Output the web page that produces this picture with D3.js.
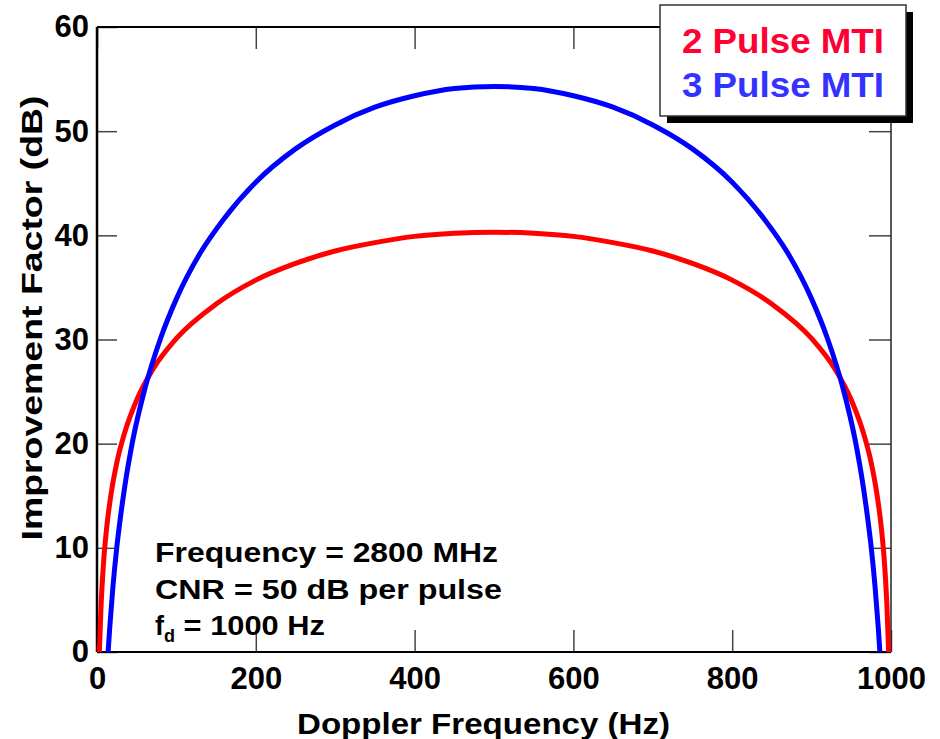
<!DOCTYPE html>
<html>
<head>
<meta charset="utf-8">
<script src="https://cdn.jsdelivr.net/npm/d3@7"></script>
<style>
  body { margin: 0; background: #fff; }
  svg text { font-family: "Liberation Sans", Arial, sans-serif; font-weight: bold; }
  .axis path { display: none; }
  .axis line { stroke: #444; stroke-width: 1.5; }
  .axis text { font-size: 31px; fill: #000; }
</style>
</head>
<body>
<div id="chart"></div>
<script>
// Doppler frequency (Hz) and improvement factor (dB).
var pulse2Freq = [3, 5, 8, 12, 18, 25, 35, 50, 70, 100, 150, 200, 250, 300, 350, 400, 450, 500,
  550, 600, 650, 700, 750, 800, 850, 900, 930, 950, 965, 975, 982, 988, 992, 995, 997];
var pulse2Gain = [0, 4.2, 8.3, 11.8, 15.3, 18.2, 21.1, 24.2, 27.1, 30.1, 33.4, 35.7, 37.3, 38.5, 39.3, 39.9, 40.2, 40.3,
  40.2, 39.9, 39.3, 38.5, 37.3, 35.7, 33.4, 30.1, 27.1, 24.2, 21.1, 18.2, 15.3, 11.8, 8.3, 4.2, 0];

var pulse3Freq = [14, 16, 20, 25, 30, 35, 45, 60, 80, 100, 130, 160, 200, 250, 300, 350, 400, 450, 500,
  550, 600, 650, 700, 750, 800, 840, 870, 900, 920, 940, 955, 965, 970, 975, 980, 984, 986];
var pulse3Gain = [0, 2.3, 6.2, 10.1, 13.2, 15.9, 20.3, 25.2, 30.1, 33.9, 38.3, 41.6, 45.1, 48.3, 50.6, 52.3, 53.4, 54.1, 54.3,
  54.1, 53.4, 52.3, 50.6, 48.3, 45.1, 41.6, 38.3, 33.9, 30.1, 25.2, 20.3, 15.9, 13.2, 10.1, 6.2, 2.3, 0];

var xTicks = [0, 200, 400, 600, 800, 1000];
var yTicks = [0, 10, 20, 30, 40, 50, 60];
var legendLabels = ["2 Pulse MTI", "3 Pulse MTI"];
var noteLines = ["Frequency = 2800 MHz", "CNR = 50 dB per pulse"];

var margin = { top: 27, right: 49, bottom: 87, left: 97 };
var width = 940 - margin.left - margin.right;
var height = 739 - margin.top - margin.bottom;

var xScale = d3.scaleLinear().domain([0, 1000]).range([0, width]);
var yScale = d3.scaleLinear().domain([0, 60]).range([height, 0]);

var svg = d3.select("#chart").append("svg")
  .attr("width", 940)
  .attr("height", 739)
  .append("g")
  .attr("transform", "translate(" + margin.left + "," + margin.top + ")");

// Axes with inward ticks.
svg.append("g")
  .attr("class", "x axis")
  .attr("transform", "translate(0," + height + ")")
  .call(d3.axisBottom(xScale).tickValues(xTicks).tickSize(-22).tickPadding(15).tickFormat(d3.format("d")));

svg.append("g")
  .attr("class", "y axis")
  .call(d3.axisLeft(yScale).tickValues(yTicks).tickSize(-20).tickPadding(8));

svg.append("g")
  .attr("class", "axis")
  .call(d3.axisTop(xScale).tickValues(xTicks).tickSize(-22).tickFormat(""));

svg.append("g")
  .attr("class", "axis")
  .attr("transform", "translate(" + width + ",0)")
  .call(d3.axisRight(yScale).tickValues(yTicks).tickSize(-22).tickFormat(""));

// Frame.
svg.append("line").attr("x1", 0).attr("x2", width).attr("y1", 0).attr("y2", 0)
  .attr("stroke", "#000").attr("stroke-width", 2);
svg.append("line").attr("x1", 0).attr("x2", width).attr("y1", height).attr("y2", height)
  .attr("stroke", "#000").attr("stroke-width", 2);
svg.append("line").attr("x1", 0).attr("x2", 0).attr("y1", 0).attr("y2", height)
  .attr("stroke", "#000").attr("stroke-width", 2.5);
svg.append("line").attr("x1", width).attr("x2", width).attr("y1", 0).attr("y2", height)
  .attr("stroke", "#222").attr("stroke-width", 1.5);

// Curves.
var line = d3.line()
  .x(function(d) { return xScale(d[0]); })
  .y(function(d) { return yScale(d[1]); })
  .curve(d3.curveMonotoneX);

var series = [
  { freq: pulse2Freq, gain: pulse2Gain, color: "#ff0000" },
  { freq: pulse3Freq, gain: pulse3Gain, color: "#0000ff" }
];

series.forEach(function(s) {
  svg.append("path")
    .datum(d3.zip(s.freq, s.gain))
    .attr("fill", "none")
    .attr("stroke", s.color)
    .attr("stroke-width", 5)
    .attr("d", line);
});

// Annotation.
var note = svg.append("g").attr("font-size", 27);
var noteWidths = [343, 347];
noteLines.forEach(function(t, i) {
  note.append("text")
    .attr("x", 58)
    .attr("y", 535 + i * 37)
    .attr("textLength", noteWidths[i])
    .attr("lengthAdjust", "spacingAndGlyphs")
    .text(t);
});
var fd = note.append("text").attr("x", 58).attr("y", 608);
fd.append("tspan").text("f");
fd.append("tspan").attr("font-size", 18).attr("dy", 7).text("d");
fd.append("tspan").attr("dy", -7).attr("textLength", 150).attr("lengthAdjust", "spacingAndGlyphs").text(" = 1000 Hz");

// Axis titles.
svg.append("text")
  .attr("text-anchor", "middle")
  .attr("x", 483.5 - margin.left)
  .attr("y", 734 - margin.top)
  .attr("font-size", 29)
  .attr("textLength", 373)
  .attr("lengthAdjust", "spacingAndGlyphs")
  .text("Doppler Frequency (Hz)");

svg.append("text")
  .attr("text-anchor", "middle")
  .attr("transform", "translate(" + (42 - margin.left) + "," + (318 - margin.top) + ") rotate(-90)")
  .attr("font-size", 29)
  .attr("textLength", 445)
  .attr("lengthAdjust", "spacingAndGlyphs")
  .text("Improvement Factor (dB)");

// Legend box with drop shadow.
var legend = d3.select("svg").append("g");
legend.append("rect")
  .attr("x", 667).attr("y", 12).attr("width", 246).attr("height", 111)
  .attr("fill", "#000");
legend.append("rect")
  .attr("x", 660).attr("y", 5).attr("width", 246).attr("height", 111)
  .attr("fill", "#fff").attr("stroke", "#333").attr("stroke-width", 1.5);
var legendColors = ["#ff0033", "#3333ff"];
legendLabels.forEach(function(t, i) {
  legend.append("text")
    .attr("x", 682)
    .attr("y", 53 + i * 44)
    .attr("font-size", 35)
    .attr("fill", legendColors[i])
    .attr("textLength", 202)
    .attr("lengthAdjust", "spacingAndGlyphs")
    .text(t);
});
</script>
</body>
</html>
